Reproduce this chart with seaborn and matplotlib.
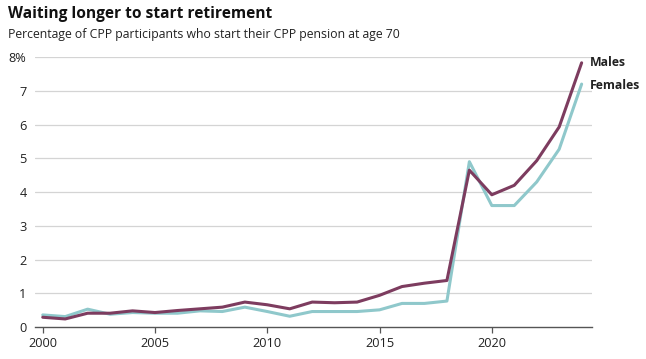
import matplotlib
matplotlib.use("Agg")
import matplotlib.pyplot as plt
import pandas as pd
import seaborn as sns

YEARS = list(range(2000, 2025))
MALES = [0.29, 0.24, 0.41, 0.41, 0.48, 0.43, 0.49, 0.54, 0.59, 0.74, 0.66, 0.54, 0.74,
         0.72, 0.74, 0.94, 1.20, 1.30, 1.38, 4.65, 3.92, 4.20, 4.93, 5.93, 7.83]
FEMALES = [0.36, 0.31, 0.53, 0.38, 0.43, 0.41, 0.41, 0.48, 0.46, 0.59, 0.46, 0.32, 0.46,
           0.46, 0.46, 0.51, 0.70, 0.70, 0.77, 4.90, 3.60, 3.60, 4.30, 5.27, 7.20]
Y_TICKS = [0, 1, 2, 3, 4, 5, 6, 7, 8]
Y_LABELS = ["0", "1", "2", "3", "4", "5", "6", "7", "8%"]
X_TICKS = [2000, 2005, 2010, 2015, 2020]

PALETTE = {"Males": "#7d3c5f", "Females": "#8fc8cb"}

df = pd.DataFrame({"Year": YEARS * 2,
                   "Value": MALES + FEMALES,
                   "Sex": ["Males"] * len(YEARS) + ["Females"] * len(YEARS)})

sns.set_theme(style="white")
plt.rcParams["font.family"] = ["Open Sans", "DejaVu Sans"]

fig = plt.figure(figsize=(6.46, 3.59), dpi=100)
ax = fig.add_axes([0.054, 0.089, 0.862, 0.752])

for y in Y_TICKS[1:]:
    ax.axhline(y, color="#d4d4d4", lw=0.9, zorder=0)

sns.lineplot(data=df[df.Sex == "Females"], x="Year", y="Value", color=PALETTE["Females"],
             lw=2.2, ax=ax, legend=False, clip_on=False)
sns.lineplot(data=df[df.Sex == "Males"], x="Year", y="Value", color=PALETTE["Males"],
             lw=2.2, ax=ax, legend=False, clip_on=False)

ax.set_xlim(1999.65, 2024.45)
ax.set_ylim(0, 8)
ax.set_yticks(Y_TICKS)
ax.set_yticklabels(Y_LABELS)
ax.set_xticks(X_TICKS)
ax.set_xlabel("")
ax.set_ylabel("")
for side in ["top", "right", "left"]:
    ax.spines[side].set_visible(False)
ax.spines["bottom"].set_color("#555555")
ax.spines["bottom"].set_linewidth(1.0)
ax.tick_params(axis="x", length=4, width=0.9, color="#555555", pad=3, labelsize=9.2,
               labelcolor="#222222", bottom=True)
ax.tick_params(axis="y", length=0, pad=6, labelsize=9.2, labelcolor="#222222")

ax.text(YEARS[-1] + 0.35, MALES[-1], "Males", fontsize=8.8, fontweight="bold",
        color="#222222", va="center", ha="left")
ax.text(YEARS[-1] + 0.35, FEMALES[-1] - 0.05, "Females", fontsize=8.8, fontweight="bold",
        color="#222222", va="center", ha="left")

fig.text(0.012, 0.96, "Waiting longer to start retirement", fontsize=11.2,
         fontweight="bold", color="#111111", va="center", ha="left")
fig.text(0.012, 0.905, "Percentage of CPP participants who start their CPP pension at age 70",
         fontsize=8.8, color="#222222", va="center", ha="left")

fig.savefig("out.png", dpi=100)
